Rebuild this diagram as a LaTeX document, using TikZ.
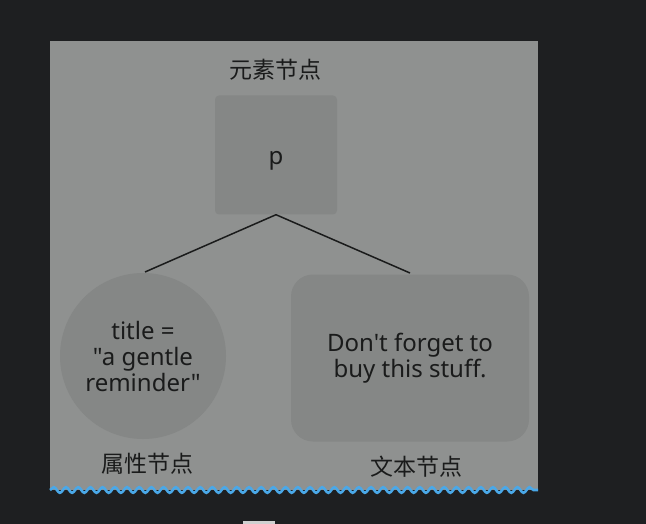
\documentclass[tikz,border=0pt]{standalone}
\usepackage{fontspec}
\newfontfamily\cjk{Noto Sans CJK SC}
\newfontfamily\latin{Noto Sans}
\usetikzlibrary{decorations.pathmorphing}
\definecolor{pagebg}{HTML}{1E1F21}
\definecolor{panelbg}{HTML}{8F9190}
\definecolor{nodebg}{HTML}{858786}
\definecolor{wavecol}{HTML}{4AA8E8}
\definecolor{tabcol}{HTML}{D0D0D0}
\definecolor{inkcol}{HTML}{1A1B1B}
\tikzset{
  caption/.style={font=\cjk\fontsize{23}{26}\selectfont, text=inkcol},
  domnode/.style={fill=nodebg, draw=none, align=center, text=inkcol,
    font=\latin\fontsize{24}{26}\selectfont},
}
\begin{document}
\begin{tikzpicture}[x=1pt,y=-1pt]
      \useasboundingbox (0,0) rectangle (646,524);
      \fill[pagebg] (0,0) rectangle (646,524);
      \fill[panelbg] (50,41) rectangle (538,490);
      \draw[wavecol, line width=2.6pt,
        decorate, decoration={snake, segment length=12.2pt, amplitude=2.8pt}]
        (50,490) -- (538,490);
      \fill[tabcol] (243,521) rectangle (275,524);
      \draw
        (276,155) node[domnode, rounded corners=4pt, minimum width=122pt,
          minimum height=119pt] (elem){\raisebox{-10pt}[0pt][0pt]{p}}
        (143,356) node[domnode, circle, minimum size=166pt, inner sep=0pt] (attr)
          {title =\\"a gentle\\reminder"}
        (410,358) node[domnode, rounded corners=22pt, minimum width=238pt,
          minimum height=167pt] (text){Don't forget to\\buy this stuff.};
      \draw
        (275,70) node[caption] (elemlabel){元素节点}
        (147,464) node[caption] (attrlabel){属性节点}
        (416,467) node[caption] (textlabel){文本节点};
      \coordinate (attrtop) at (145,272);
      \coordinate (texttop) at (410,273);
      \begin{scope}[-, line width=1.5pt, inkcol]
        \draw (elem.south) to (attrtop);
        \draw (elem.south) to (texttop);
      \end{scope}
    \end{tikzpicture}
\end{document}
